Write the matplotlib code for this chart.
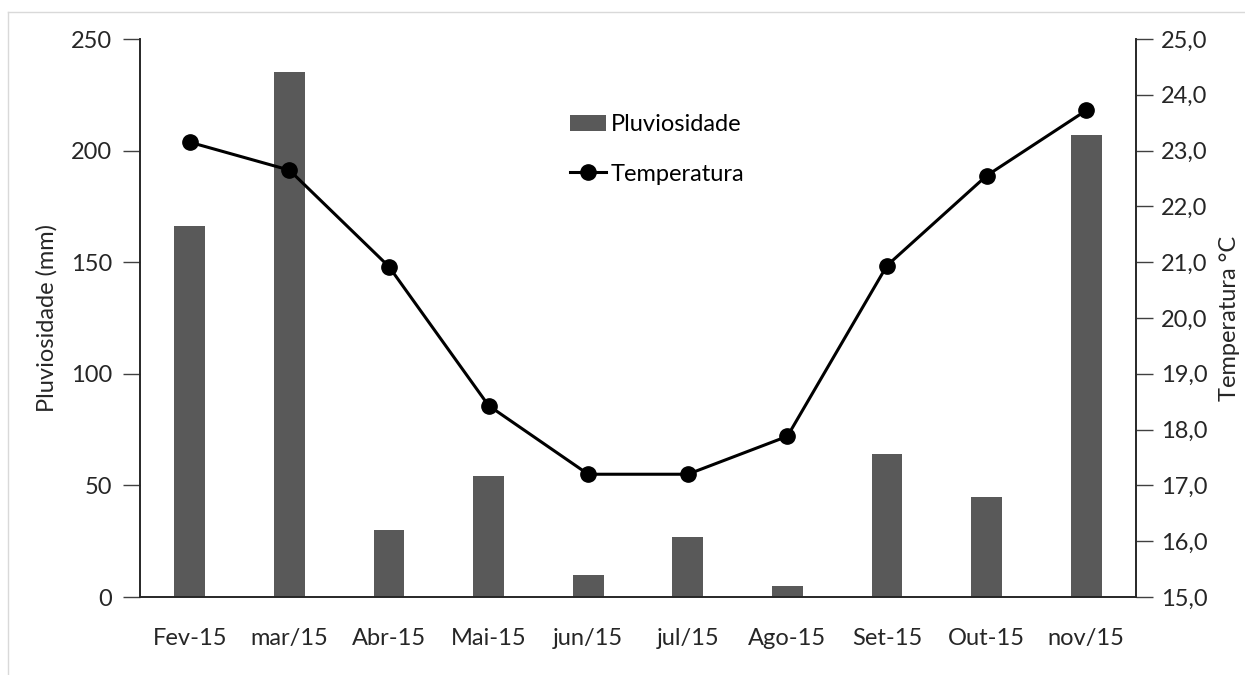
import matplotlib.pyplot as plt
import numpy as np

plt.rcParams['font.family'] = ['Lato', 'DejaVu Sans']

meses = ['Fev-15', 'mar/15', 'Abr-15', 'Mai-15', 'jun/15', 'jul/15',
         'Ago-15', 'Set-15', 'Out-15', 'nov/15']
pluviosidade = [166, 235, 30, 54, 10, 27, 5, 64, 45, 207]
temperatura = [23.15, 22.65, 20.92, 18.43, 17.2, 17.2, 17.88, 20.94, 22.55, 23.72]

ticks_pluv = [0, 50, 100, 150, 200, 250]
ticks_temp = np.arange(15, 25.1, 1.0)

fig = plt.figure(figsize=(12.45, 6.75), dpi=100)
ax = fig.add_axes([140 / 1245, 78 / 675, 996 / 1245, 558 / 675])
ax2 = ax.twinx()

x = np.arange(len(meses))
barras = ax.bar(x, pluviosidade, width=0.31, color='#595959', label='Pluviosidade', zorder=2)
linha, = ax2.plot(x, temperatura, color='black', lw=2.2, marker='o', ms=11,
                  label='Temperatura', zorder=3)

ax.set_xlim(-0.5, len(meses) - 0.5)
ax.set_ylim(0, 250)
ax2.set_ylim(15, 25)
ax.set_yticks(ticks_pluv)
ax2.set_yticks(ticks_temp)
ax2.set_yticklabels([f"{t:.1f}".replace('.', ',') for t in ticks_temp])
ax.set_xticks(x)
ax.set_xticklabels(meses)

for a in (ax, ax2):
    a.spines['top'].set_visible(False)
    a.tick_params(axis='y', labelsize=17, length=12, width=1, color='#404040',
                  labelcolor='#262626', pad=8)
    a.tick_params(axis='x', labelsize=17, length=0, pad=22, labelcolor='#262626')
    for s in a.spines.values():
        s.set_color('#262626')
        s.set_linewidth(1.2)
ax2.tick_params(axis='y', pad=6)

ax.set_ylabel('Pluviosidade (mm)', fontsize=17, color='#262626', labelpad=10)
ax2.set_ylabel('Temperatura °C', fontsize=17, color='#262626', labelpad=8)

ax2.patch.set_visible(False)

leg = ax.legend([barras, linha], ['Pluviosidade', 'Temperatura'],
                loc='upper left', bbox_to_anchor=(0.432, 0.865), frameon=False,
                fontsize=17, handlelength=1.5, handletextpad=0.2, labelspacing=1.2,
                borderpad=0, borderaxespad=0)
leg.set_zorder(5)

# borda cinza clara da imagem
fig.add_artist(plt.Line2D([8 / 1245, 1], [1 - 12 / 675, 1 - 12 / 675],
                          transform=fig.transFigure, color='#d9d9d9', lw=1))
fig.add_artist(plt.Line2D([8 / 1245, 8 / 1245], [0, 1 - 12 / 675],
                          transform=fig.transFigure, color='#d9d9d9', lw=1))

fig.savefig('out.png', dpi=100)
